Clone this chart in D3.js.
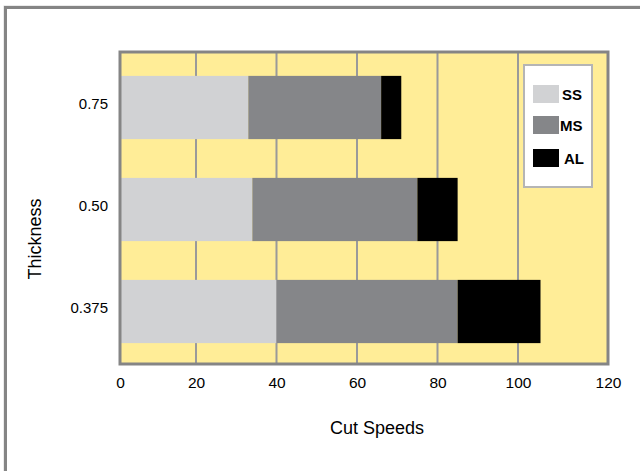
<!DOCTYPE html>
<html>
<head>
<meta charset="utf-8">
<script src="https://cdn.jsdelivr.net/npm/d3@7/dist/d3.min.js"></script>
<style>
  body { margin: 0; background: #fff; }
  svg { display: block; font-family: 'Liberation Sans', Arial, sans-serif; }
</style>
</head>
<body>
<div id="chart"></div>
<script>
'use strict';

var thickness = ['0.75', '0.50', '0.375'];
var seriesNames = ['SS', 'MS', 'AL'];
var ssValues = [33, 34, 40];
var msValues = [33, 41, 45];
var alValues = [5, 10, 20];
var xTicks = [0, 20, 40, 60, 80, 100, 120];

var width = 640;
var height = 471;
var plotLeft = 120;
var plotRight = 608;
var plotTop = 52;
var plotBottom = 364;

var seriesColors = ['#d1d2d4', '#858689', '#000000'];
var plotBackground = '#ffed97';
var frameColor = '#858585';
var gridColor = '#9a9a9a';

var svg = d3.select('#chart').append('svg')
  .attr('width', width)
  .attr('height', height);

// outer chart border (runs off the right and bottom edges)
svg.append('rect')
  .attr('x', 4).attr('y', 6)
  .attr('width', 800).attr('height', 700)
  .attr('fill', 'none')
  .attr('stroke', '#d8d8d8')
  .attr('stroke-width', 1);
svg.append('rect')
  .attr('x', 5.5).attr('y', 7.5)
  .attr('width', 800).attr('height', 700)
  .attr('fill', 'none')
  .attr('stroke', frameColor)
  .attr('stroke-width', 3);

// the original's axis is not evenly spaced at the ends, so use a polylinear scale
var x = d3.scaleLinear()
  .domain([0, 20, 100, 120])
  .range([plotLeft, 196, 518, plotRight]);

var y = d3.scaleBand()
  .domain(thickness)
  .range([56.5, 362.5])
  .paddingInner(0.38)
  .paddingOuter(0.19);

svg.append('rect')
  .attr('x', plotLeft).attr('y', plotTop)
  .attr('width', plotRight - plotLeft).attr('height', plotBottom - plotTop)
  .attr('fill', plotBackground);

svg.append('g').selectAll('line')
  .data(xTicks.slice(1, -1))
  .join('line')
  .attr('x1', function (d) { return x(d); })
  .attr('x2', function (d) { return x(d); })
  .attr('y1', plotTop)
  .attr('y2', plotBottom)
  .attr('stroke', gridColor)
  .attr('stroke-width', 2);

var rows = thickness.map(function (t, i) {
  return { thickness: t, SS: ssValues[i], MS: msValues[i], AL: alValues[i] };
});
var stacked = d3.stack().keys(seriesNames)(rows);

svg.append('g').selectAll('g')
  .data(stacked)
  .join('g')
  .attr('fill', function (d, i) { return seriesColors[i]; })
  .selectAll('rect')
  .data(function (d) { return d; })
  .join('rect')
  .attr('x', function (d) { return x(d[0]); })
  .attr('width', function (d) { return x(d[1]) - x(d[0]); })
  .attr('y', function (d) { return y(d.data.thickness); })
  .attr('height', y.bandwidth());

svg.append('rect')
  .attr('x', plotLeft).attr('y', plotTop)
  .attr('width', plotRight - plotLeft).attr('height', plotBottom - plotTop)
  .attr('fill', 'none')
  .attr('stroke', frameColor)
  .attr('stroke-width', 3);

// x axis
var xAxis = svg.append('g')
  .attr('transform', 'translate(0,' + plotBottom + ')')
  .call(d3.axisBottom(x).tickValues(xTicks).tickSize(0).tickPadding(13));
xAxis.select('.domain').remove();
xAxis.selectAll('text')
  .attr('font-size', 15.5)
  .attr('font-family', "'Liberation Sans', Arial, sans-serif")
  .attr('fill', '#000');

// y axis
var yAxis = svg.append('g')
  .attr('transform', 'translate(' + plotLeft + ',0)')
  .call(d3.axisLeft(y).tickSize(0).tickPadding(12));
yAxis.select('.domain').remove();
yAxis.selectAll('text')
  .attr('font-size', 15)
  .attr('font-family', "'Liberation Sans', Arial, sans-serif")
  .attr('fill', '#000')
  .attr('dy', '0.1em');

svg.append('text')
  .attr('x', 377).attr('y', 434)
  .attr('text-anchor', 'middle')
  .attr('font-size', 18)
  .text('Cut Speeds');

svg.append('text')
  .attr('transform', 'translate(41,239) rotate(-90)')
  .attr('text-anchor', 'middle')
  .attr('font-size', 18)
  .text('Thickness');

// legend
var legend = svg.append('g');
legend.append('rect')
  .attr('x', 524).attr('y', 65)
  .attr('width', 68).attr('height', 122)
  .attr('fill', '#fff')
  .attr('stroke', '#b5b5b5')
  .attr('stroke-width', 2);

var legendY = [85, 116, 149];
var legendTextX = [562, 560, 564];
seriesNames.forEach(function (name, i) {
  legend.append('rect')
    .attr('x', 533).attr('y', legendY[i])
    .attr('width', 26).attr('height', 18)
    .attr('fill', seriesColors[i]);
  legend.append('text')
    .attr('x', legendTextX[i]).attr('y', legendY[i] + 14.5)
    .attr('font-size', 15)
    .attr('font-weight', 'bold')
    .text(name);
});
</script>
</body>
</html>
